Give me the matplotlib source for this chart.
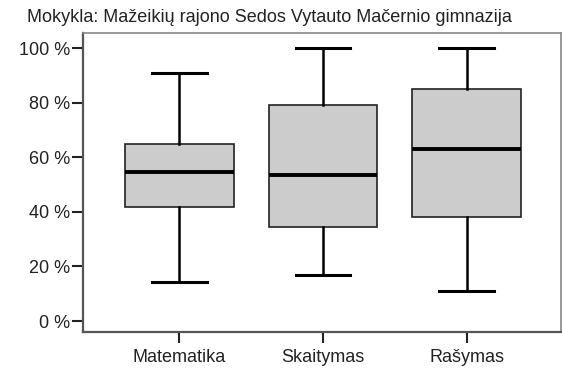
import matplotlib.pyplot as plt
from matplotlib.ticker import FuncFormatter

plt.rcParams['font.family'] = ['Liberation Sans', 'DejaVu Sans']

dalykai = ['Matematika', 'Skaitymas', 'Rašymas']
apatinis = [14.2, 16.8, 10.9]
q1 = [41.6, 34.5, 38.1]
mediana = [54.7, 53.6, 62.9]
q3 = [64.7, 79.0, 85.0]
virsutinis = [91.0, 100.0, 100.0]

stats = []
for i in range(len(dalykai)):
    stats.append({'label': dalykai[i], 'whislo': apatinis[i], 'q1': q1[i],
                  'med': mediana[i], 'q3': q3[i], 'whishi': virsutinis[i]})

fig = plt.figure(figsize=(5.62, 3.73), dpi=100)
ax = fig.add_axes([83/562, 1-332/373, (561-83)/562, (332-33)/373])

ax.bxp(stats, positions=[1, 2, 3], widths=0.755, showfliers=False, patch_artist=True,
       boxprops=dict(facecolor='#cccccc', edgecolor='#222222', linewidth=1.2),
       medianprops=dict(color='black', linewidth=2.8),
       whiskerprops=dict(color='black', linewidth=1.8),
       capprops=dict(color='black', linewidth=2.2), capwidths=0.38)

ax.set_xlim(0.329, 3.657)
ax.set_ylim(-4, 105.5)
ax.set_yticks([0, 20, 40, 60, 80, 100])
ax.yaxis.set_major_formatter(FuncFormatter(lambda v, p: '%d %%' % v))
ax.tick_params(axis='both', labelsize=13, colors='#222222', length=8, width=1.5)
ax.tick_params(axis='y', pad=1)
ax.tick_params(axis='x', pad=4)
for s in ['left', 'bottom']:
    ax.spines[s].set_color('#555555')
    ax.spines[s].set_linewidth(1.6)
for s in ['top', 'right']:
    ax.spines[s].set_color('#888888')
    ax.spines[s].set_linewidth(1.2)

fig.text(269/562, 1-18/373, 'Mokykla: Mažeikių rajono Sedos Vytauto Mačernio gimnazija',
         ha='center', va='center', fontsize=13, color='#222222')

fig.savefig('out.png', dpi=100)
